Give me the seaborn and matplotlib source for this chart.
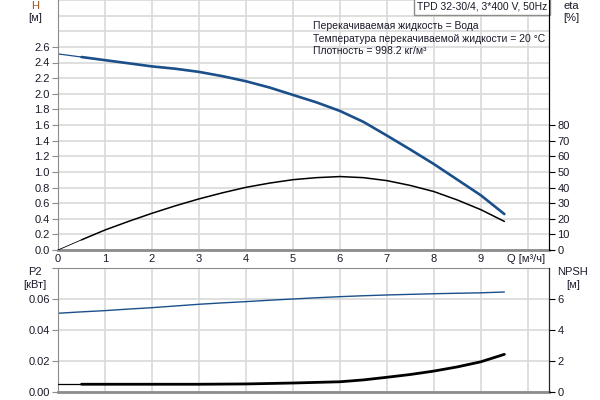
import matplotlib
matplotlib.use("Agg")
import matplotlib.pyplot as plt
import seaborn as sns
import pandas as pd
import numpy as np

# ---- data ----
q = [0, 0.5, 1, 1.5, 2, 2.5, 3, 3.5, 4, 4.5, 5, 5.5, 6, 6.5, 7, 7.5, 8, 8.5, 9, 9.5]
head = [2.51, 2.47, 2.43, 2.39, 2.35, 2.32, 2.28, 2.225, 2.16, 2.08, 1.985, 1.89, 1.78,
        1.64, 1.465, 1.285, 1.10, 0.90, 0.70, 0.46]
eta = [0, 6.5, 12.8, 18.3, 23.5, 28.3, 32.7, 36.6, 40.1, 42.8, 45.0, 46.3, 47.0,
       46.3, 44.4, 41.3, 37.4, 32.0, 25.8, 18.3]
p2 = [0.0508, 0.0517, 0.0525, 0.0535, 0.0544, 0.0555, 0.0566, 0.0575, 0.0583, 0.0592,
      0.0600, 0.0608, 0.0615, 0.0621, 0.0626, 0.0630, 0.0634, 0.0637, 0.0640, 0.0645]
npsh = [0.50, 0.50, 0.50, 0.50, 0.50, 0.50, 0.50, 0.51, 0.52, 0.55, 0.58, 0.62, 0.66,
        0.78, 0.95, 1.13, 1.35, 1.62, 1.95, 2.43]

h_ticks = [0.0, 0.2, 0.4, 0.6, 0.8, 1.0, 1.2, 1.4, 1.6, 1.8, 2.0, 2.2, 2.4, 2.6]
eta_ticks = [0, 10, 20, 30, 40, 50, 60, 70, 80]
q_ticks = [0, 1, 2, 3, 4, 5, 6, 7, 8, 9]
p2_ticks = [0.00, 0.02, 0.04, 0.06]
npsh_ticks = [0, 2, 4, 6]

title = "TPD 32-30/4, 3*400 V, 50Hz"
info = ["Перекачиваемая жидкость = Вода",
        "Температура перекачиваемой жидкости = 20 °C",
        "Плотность = 998.2 кг/м³"]

df = pd.DataFrame({"q": q, "H": head, "eta": eta, "P2": p2, "NPSH": npsh})
thin = df[df.q <= 0.5]
thick = df[df.q >= 0.5]

sns.set_style("white")
plt.rcParams["font.family"] = ["Liberation Sans", "DejaVu Sans"]
plt.rcParams["font.size"] = 8

TXT = "#1a1a2a"
GRID = "#d9d9d9"
SPG = "#8c8c8c"
BLUE = "#1b4f8a"

fig = plt.figure(figsize=(6, 4), dpi=100)
ax = fig.add_axes([58/600, 1-250/400, (549-58)/600, 250/400])
axb = fig.add_axes([58/600, 1-392/400, (549-58)/600, (392-268)/400])

XMAX = 10.45
for a in (ax, axb):
    a.set_xlim(0, XMAX)
    a.set_xticks(list(range(0, 11)))
    a.grid(True, which="both", color=GRID, linewidth=1.2)
    a.set_axisbelow(True)
    for s in ("left", "top", "bottom"):
        a.spines[s].set_color(SPG)
    a.spines["right"].set_color("black")

# ---- top: H and eta ----
ax.set_ylim(0, 3.2)
ax.set_yticks(h_ticks)
ax.set_yticks([2.8, 3.0, 3.2], minor=True)
ax.set_yticklabels([f"{v:.1f}" for v in h_ticks], color=TXT)
ax.tick_params(axis="y", which="major", length=4, color=SPG, pad=2, labelsize=8)
ax.tick_params(axis="y", which="minor", length=0)
ax.set_xticklabels([str(v) if v in q_ticks else "" for v in range(0, 11)], color=TXT)
ax.tick_params(axis="x", length=0, pad=3, labelsize=8)
ax.spines["bottom"].set_linewidth(2)
ax.spines["top"].set_visible(False)

sns.lineplot(data=thin, x="q", y="H", ax=ax, color=BLUE, linewidth=0.9)
sns.lineplot(data=thick, x="q", y="H", ax=ax, color=BLUE, linewidth=1.9)
ax.set_xlabel(""); ax.set_ylabel("")

axe = ax.twinx()
axe.set_ylim(0, 160)
axe.set_yticks(eta_ticks)
axe.set_yticklabels([str(v) for v in eta_ticks], color=TXT)
axe.tick_params(axis="y", length=4, color="black", pad=2, labelsize=8)
axe.grid(False)
for s in ("left", "top", "bottom"):
    axe.spines[s].set_visible(False)
axe.spines["right"].set_color("black")
sns.lineplot(data=thin, x="q", y="eta", ax=axe, color="black", linewidth=0.6)
sns.lineplot(data=thick, x="q", y="eta", ax=axe, color="black", linewidth=1.1)
axe.set_xlabel(""); axe.set_ylabel("")
axe.set_xlim(0, XMAX)

# title box
ax.text(0.996, 0.994, title, transform=ax.transAxes, ha="right", va="top",
        fontsize=7.5, color=TXT,
        bbox=dict(boxstyle="square,pad=0.3", facecolor="white", edgecolor=SPG, linewidth=1))
for i, line in enumerate(info):
    fig.text(313/600, 1-(26+12.5*i)/400, line, ha="left", va="center", fontsize=7.5, color=TXT)

fig.text(35/600, 1-6/400, "H", ha="center", va="center", fontsize=8, color="#a0501a")
fig.text(35/600, 1-18/400, "[м]", ha="center", va="center", fontsize=8, color=TXT)
fig.text(571/600, 1-6/400, "eta", ha="center", va="center", fontsize=8, color=TXT)
fig.text(571/600, 1-18/400, "[%]", ha="center", va="center", fontsize=8, color=TXT)
fig.text(545/600, 1-259/400, "Q [м³/ч]", ha="right", va="center", fontsize=8, color=TXT)

# ---- bottom: P2 and NPSH ----
axb.set_ylim(0, 0.08)
axb.set_yticks(p2_ticks + [0.08])
axb.set_yticklabels([f"{v:.2f}" for v in p2_ticks] + [""], color=TXT)
axb.tick_params(axis="y", length=4, color=SPG, pad=2, labelsize=8)
axb.set_xticklabels([])
axb.tick_params(axis="x", length=0)
axb.spines["bottom"].set_linewidth(2)
sns.lineplot(data=df, x="q", y="P2", ax=axb, color=BLUE, linewidth=1.0)
axb.set_xlabel(""); axb.set_ylabel("")

axn = axb.twinx()
axn.set_ylim(0, 8)
axn.set_yticks(npsh_ticks)
axn.set_yticklabels([str(v) for v in npsh_ticks], color=TXT)
axn.tick_params(axis="y", length=4, color="black", pad=2, labelsize=8)
axn.grid(False)
for s in ("left", "top", "bottom"):
    axn.spines[s].set_visible(False)
sns.lineplot(data=thin, x="q", y="NPSH", ax=axn, color="black", linewidth=0.9)
sns.lineplot(data=thick, x="q", y="NPSH", ax=axn, color="black", linewidth=2.0)
axn.set_xlabel(""); axn.set_ylabel("")
axn.set_xlim(0, XMAX)

fig.text(35/600, 1-272/400, "P2", ha="center", va="center", fontsize=8, color=TXT)
fig.text(35/600, 1-285/400, "[кВт]", ha="center", va="center", fontsize=8, color=TXT)
fig.text(573/600, 1-272/400, "NPSH", ha="center", va="center", fontsize=8, color=TXT)
fig.text(573/600, 1-285/400, "[м]", ha="center", va="center", fontsize=8, color=TXT)

fig.savefig("out.png", dpi=100)
